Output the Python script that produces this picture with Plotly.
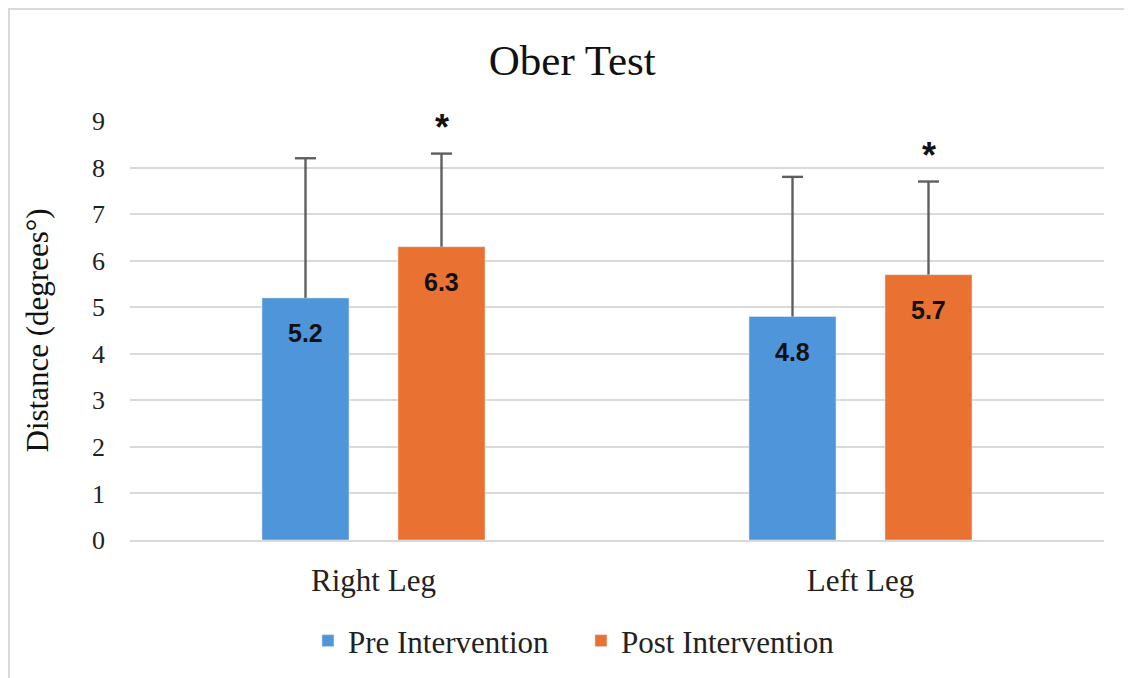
import plotly.graph_objects as go

categories = ["Right Leg", "Left Leg"]
pre_values = [5.2, 4.8]
post_values = [6.3, 5.7]
pre_sd = [3.0, 3.0]
post_sd = [2.0, 2.0]
post_sig = ["*", "*"]
y_ticks = [0, 1, 2, 3, 4, 5, 6, 7, 8, 9]

BLUE = "#4F95DA"
ORANGE = "#E97132"
ERR = "#5f5f5f"
SERIF = "Liberation Serif, Times New Roman, serif"
SANS = "Liberation Sans, Arial, sans-serif"

W, H = 1124, 670
L, R, T, B = 122, 28, 113, 138
PW, PH = W - L - R, H - T - B
GAP = 0.4415

fig = go.Figure()
for name, vals, sd, col in (("Pre Intervention", pre_values, pre_sd, BLUE),
                            ("Post Intervention", post_values, post_sd, ORANGE)):
    fig.add_trace(go.Bar(
        name=name, x=categories, y=vals, marker_color=col, offsetgroup=name,
        error_y=dict(type="data", array=sd, arrayminus=[0] * len(sd), symmetric=False,
                     color=ERR, thickness=2.4, width=0),
    ))
# caps only at the top of each error bar
for name, vals, sd in (("Pre Intervention", pre_values, pre_sd),
                       ("Post Intervention", post_values, post_sd)):
    fig.add_trace(go.Scatter(
        x=categories, y=[v + s for v, s in zip(vals, sd)], mode="markers",
        offsetgroup=name, showlegend=False, hoverinfo="skip",
        marker=dict(symbol="line-ew", size=15, line=dict(color=ERR, width=2.4)),
    ))

annotations = []
group_offsets = [-0.1397, 0.1397]
for s, vals in enumerate((pre_values, post_values)):
    for i, v in enumerate(vals):
        annotations.append(dict(
            x=i + group_offsets[s], y=v, xref="x", yref="y", text=f"{v:.1f}",
            showarrow=False, yanchor="middle", yshift=-35,
            font=dict(family=SANS, size=25, color="#111111", weight="bold"),
        ))
for i, v in enumerate(post_values):
    annotations.append(dict(
        x=i + group_offsets[1], y=v + post_sd[i], xref="x", yref="y", text=post_sig[i],
        showarrow=False, yanchor="middle", yshift=26,
        font=dict(family=SANS, size=36, color="#111111", weight="bold"),
    ))

fig.update_layout(
    width=W, height=H,
    paper_bgcolor="white", plot_bgcolor="white",
    margin=dict(l=L, r=R, t=T, b=B, autoexpand=False),
    barmode="group", bargap=GAP, bargroupgap=0.36,
    scattermode="group", scattergap=GAP,
    title=dict(text="Ober Test", x=0.502, xanchor="center", y=0.922, yanchor="middle",
               font=dict(family=SERIF, size=43, color="#111111")),
    font=dict(family=SERIF, color="#222222"),
    showlegend=True,
    legend=dict(orientation="h", x=0.463, xanchor="center", y=-0.241, yanchor="middle",
                font=dict(family=SERIF, size=31, color="#222222"),
                entrywidth=228, entrywidthmode="pixels",
                tracegroupgap=0, bgcolor="rgba(0,0,0,0)"),
    annotations=annotations,
    shapes=[dict(type="rect", xref="paper", yref="paper",
                 x0=(1 - L) / PW, x1=(W + 10 - L) / PW,
                 y0=-(B + 10) / PH, y1=1 + (T - 1) / PH,
                 line=dict(color="#d9d9d9", width=2), fillcolor="rgba(0,0,0,0)", layer="below")],
)
fig.update_yaxes(range=[0, 9], tickvals=y_ticks, showgrid=True, gridcolor="#d9d9d9", gridwidth=2,
                 zeroline=False, showline=False, ticks="", ticklabelstandoff=24,
                 tickfont=dict(family=SERIF, size=26, color="#222222"),
                 title=dict(text="Distance (degrees°)", standoff=34,
                            font=dict(family=SERIF, size=31, color="#111111")))
fig.update_xaxes(showline=True, linecolor="#d9d9d9", linewidth=2, ticks="",
                 tickfont=dict(family=SERIF, size=31, color="#222222"), ticklabelstandoff=12)

fig.write_html("out.html")
